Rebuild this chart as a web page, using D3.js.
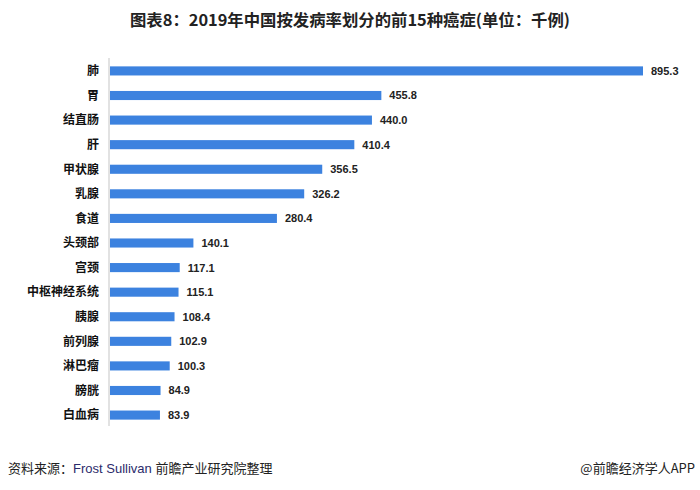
<!DOCTYPE html>
<html><head><meta charset="utf-8">
<script src="https://cdn.jsdelivr.net/npm/d3@7"></script>
<style>body{margin:0;background:#fff;}svg{display:block;}</style>
</head><body>
<svg id="c" width="700" height="490"></svg>
<script>
const categories = ["肺","胃","结直肠","肝","甲状腺","乳腺","食道","头颈部","宫颈","中枢神经系统","胰腺","前列腺","淋巴瘤","膀胱","白血病"];
const values = [895.3,455.8,440.0,410.4,356.5,326.2,280.4,140.1,117.1,115.1,108.4,102.9,100.3,84.9,83.9];
const titleText = "图表8：2019年中国按发病率划分的前15种癌症(单位：千例)";

const svg = d3.select("#c");
const font = "'Noto Sans CJK SC','Noto Sans',sans-serif";
const x0 = 110;
const x = d3.scaleLinear().domain([0, 895.3]).range([x0, 643]);
const y = d3.scaleBand().domain(categories).range([59, 427]).paddingInner(0.63).paddingOuter(0.3);

svg.append("text").attr("x", 350).attr("y", 26).attr("text-anchor","middle")
  .attr("font-family", font).attr("font-weight","bold").attr("font-size",16)
  .attr("fill","#222").attr("textLength",440).attr("lengthAdjust","spacingAndGlyphs").text(titleText);

svg.append("line").attr("x1", x0-1).attr("x2", x0-1).attr("y1", 58).attr("y2", 426)
  .attr("stroke","#d9d9d9").attr("stroke-width",1.5);

svg.selectAll("rect.bar").data(values).enter().append("rect").attr("class","bar")
  .attr("x", x0).attr("y",(d,i)=>y(categories[i]))
  .attr("width", d=>x(d)-x0).attr("height", y.bandwidth())
  .attr("fill","#3c82df");

svg.selectAll("text.cat").data(categories).enter().append("text").attr("class","cat")
  .attr("x", 99).attr("y", d=>y(d)+y.bandwidth()/2).attr("dy","0.36em")
  .attr("text-anchor","end").attr("font-family",font).attr("font-weight","bold")
  .attr("font-size",12).attr("fill","#111").text(d=>d);

svg.selectAll("text.val").data(values).enter().append("text").attr("class","val")
  .attr("x", d=>x(d)+8).attr("y",(d,i)=>y(categories[i])+y.bandwidth()/2).attr("dy","0.36em")
  .attr("font-family","'Liberation Sans','Noto Sans',sans-serif").attr("font-weight","bold")
  .attr("font-size",11).attr("fill","#222").text(d=>d.toFixed(1));

const src = svg.append("text").attr("x", 8).attr("y", 473).attr("font-family",font)
  .attr("font-size",13).attr("fill","#222");
src.append("tspan").text("资料来源：");
src.append("tspan").attr("fill","#2b2b6b").attr("font-family","'Liberation Sans',sans-serif").text("Frost Sullivan ");
src.append("tspan").text("前瞻产业研究院整理");

svg.append("text").attr("x", 695).attr("y", 473).attr("text-anchor","end")
  .attr("font-family",font).attr("font-size",13).attr("fill","#222").text("@前瞻经济学人APP");
</script>
</body></html>
